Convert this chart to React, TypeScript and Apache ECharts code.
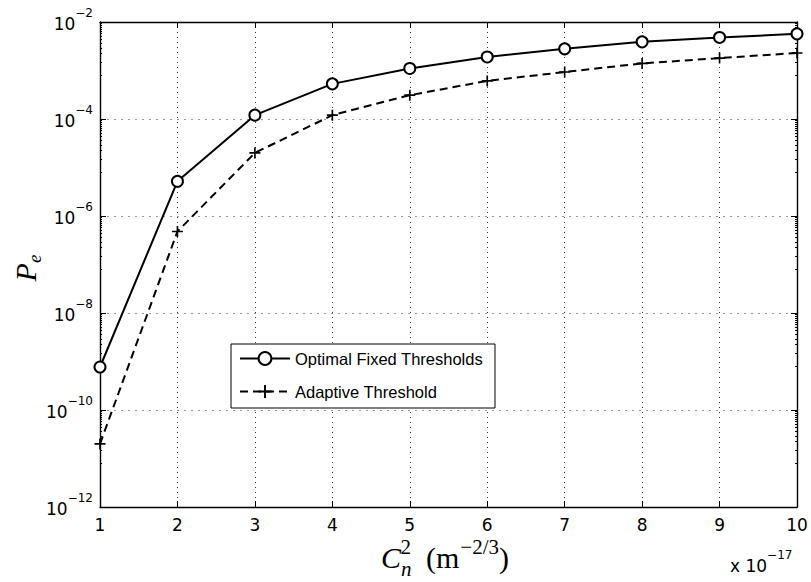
import React, { useEffect, useRef } from "react";
import * as echarts from "echarts";

const xValues = [1, 2, 3, 4, 5, 6, 7, 8, 9, 10];
const fixedThresholds = [7.7e-10, 5.2e-6, 1.2e-4, 5.3e-4, 1.1e-3, 1.9e-3, 2.8e-3, 3.9e-3, 4.8e-3, 5.7e-3];
const adaptiveThreshold = [2.0e-11, 4.8e-7, 2.0e-5, 1.2e-4, 3.1e-4, 6.1e-4, 9.3e-4, 1.4e-3, 1.8e-3, 2.3e-3];
const seriesNames = ["Optimal Fixed Thresholds", "Adaptive Threshold"];

const PLUS = "path://M-0.9,-6H0.9V-0.9H6V0.9H0.9V6H-0.9V0.9H-6V-0.9H-0.9Z";

export default function App() {
  const ref = useRef<HTMLDivElement>(null);
  useEffect(() => {
    if (!ref.current) return;
    const chart = echarts.init(ref.current, null, { renderer: "svg" });
    const font = "Liberation Sans, Arial, Helvetica, sans-serif";
    const tickFont = "DejaVu Sans, sans-serif";
    const serif = "Liberation Serif, Times New Roman, serif";
    const yLabel = (v: number) => {
      const e = Math.round(Math.log10(v));
      return `{b|10}{s|${e < 0 ? "\u2212" + -e : e}}`;
    };
    const tickStyle = { show: true, inside: true, length: 6, lineStyle: { color: "#000", width: 1 } };
    const minorY = { show: true, splitNumber: 14, length: 2, lineStyle: { color: "#000", width: 1 } };
    chart.setOption({
      animation: false,
      backgroundColor: "#fff",
      grid: { left: 100, right: 14, top: 22, bottom: 75 },
      xAxis: [
        {
          type: "value",
          min: 1,
          max: 10,
          interval: 1,
          axisLine: { show: true, lineStyle: { color: "#000", width: 1.4 } },
          axisTick: tickStyle,
          axisLabel: { color: "#000", fontSize: 17, fontFamily: tickFont, margin: 9 },
          splitLine: { show: true, lineStyle: { color: "#333", type: [1, 4], width: 1 } },
        },
        {
          type: "value",
          position: "top",
          min: 1,
          max: 10,
          interval: 1,
          axisLine: { show: true, lineStyle: { color: "#000", width: 1.4 } },
          axisTick: tickStyle,
          axisLabel: { show: false },
          splitLine: { show: false },
        },
      ],
      yAxis: [
        {
          type: "log",
          logBase: 10,
          min: 1e-12,
          max: 1e-2,
          interval: 2,
          axisLine: { show: true, lineStyle: { color: "#000", width: 1.4 } },
          axisTick: tickStyle,
          minorTick: minorY,
          axisLabel: {
            color: "#000",
            margin: 7,
            formatter: yLabel,
            rich: {
              b: { fontSize: 17, fontFamily: tickFont, color: "#000", verticalAlign: "bottom", lineHeight: 20 },
              s: { fontSize: 12, fontFamily: tickFont, color: "#000", verticalAlign: "bottom", lineHeight: 20, padding: [0, 0, 13, 0] },
            },
          },
          splitLine: { show: true, lineStyle: { color: "#999", type: [2, 5], width: 1 } },
        },
        {
          type: "log",
          logBase: 10,
          min: 1e-12,
          max: 1e-2,
          interval: 2,
          position: "right",
          axisLine: { show: true, lineStyle: { color: "#000", width: 1.4 } },
          axisTick: tickStyle,
          minorTick: minorY,
          axisLabel: { show: false },
          splitLine: { show: false },
        },
      ],
      legend: {
        left: 231,
        top: 344,
        orient: "vertical",
        backgroundColor: "#fff",
        borderColor: "#000",
        borderWidth: 1,
        borderRadius: 0,
        padding: [6, 12, 8, 8],
        itemGap: 16,
        itemWidth: 50,
        itemHeight: 16,
        itemTextGap: 2,
        textStyle: { color: "#000", fontSize: 16.5, fontFamily: font },
        data: seriesNames,
      },
      graphic: [
        {
          type: "text",
          x: 445,
          y: 572,
          style: {
            text: "{c|C}{sub|n}{sup|2}{t|  (m}{sup2|\u22122/3}{t|)}",
            align: "center",
            verticalAlign: "bottom",
            rich: {
              c: { fontSize: 30, fontFamily: serif, fontStyle: "italic", fill: "#000", verticalAlign: "bottom", lineHeight: 34 },
              sub: { fontSize: 21, fontFamily: serif, fontStyle: "italic", fill: "#000", verticalAlign: "bottom", lineHeight: 34, padding: [0, 0, -7, 0] },
              sup: { fontSize: 21, fontFamily: serif, fill: "#000", verticalAlign: "bottom", lineHeight: 34, padding: [0, 0, 15, -11] },
              t: { fontSize: 30, fontFamily: serif, fill: "#000", verticalAlign: "bottom", lineHeight: 34 },
              sup2: { fontSize: 21, fontFamily: serif, fill: "#000", verticalAlign: "bottom", lineHeight: 34, padding: [0, 0, 15, 1] },
            },
          },
        },
        {
          type: "text",
          x: 730,
          y: 574,
          style: {
            text: "{b|x 10}{s|\u221217}",
            verticalAlign: "bottom",
            rich: {
              b: { fontSize: 17, fontFamily: tickFont, fill: "#000", verticalAlign: "bottom", lineHeight: 22 },
              s: { fontSize: 12, fontFamily: tickFont, fill: "#000", verticalAlign: "bottom", lineHeight: 22, padding: [0, 0, 13, 0] },
            },
          },
        },
        {
          type: "text",
          x: 40,
          y: 268,
          rotation: Math.PI / 2,
          style: {
            text: "{p|P}{e|e}",
            align: "center",
            verticalAlign: "bottom",
            rich: {
              p: { fontSize: 30, fontFamily: serif, fontStyle: "italic", fill: "#000", verticalAlign: "bottom", lineHeight: 32 },
              e: { fontSize: 19, fontFamily: serif, fontStyle: "italic", fill: "#000", verticalAlign: "bottom", lineHeight: 32, padding: [0, 0, -4, 0] },
            },
          },
        },
      ],
      series: [
        {
          name: seriesNames[0],
          type: "line",
          xAxisIndex: 0,
          yAxisIndex: 0,
          data: xValues.map((x, i) => [x, fixedThresholds[i]]),
          color: "#000",
          symbol: "emptyCircle",
          symbolSize: 11,
          lineStyle: { color: "#000", width: 2 },
          itemStyle: { color: "#000", borderColor: "#000", borderWidth: 1.8 },
        },
        {
          name: seriesNames[1],
          type: "line",
          xAxisIndex: 0,
          yAxisIndex: 0,
          data: xValues.map((x, i) => [x, adaptiveThreshold[i]]),
          color: "#000",
          symbol: PLUS,
          symbolSize: 11,
          lineStyle: { color: "#000", width: 2, type: [8, 5] },
          itemStyle: { color: "#000" },
        },
      ],
    });
    return () => chart.dispose();
  }, []);
  return <div ref={ref} style={{ position: "absolute", left: 0, top: 0, width: 811, height: 582 }} />;
}
